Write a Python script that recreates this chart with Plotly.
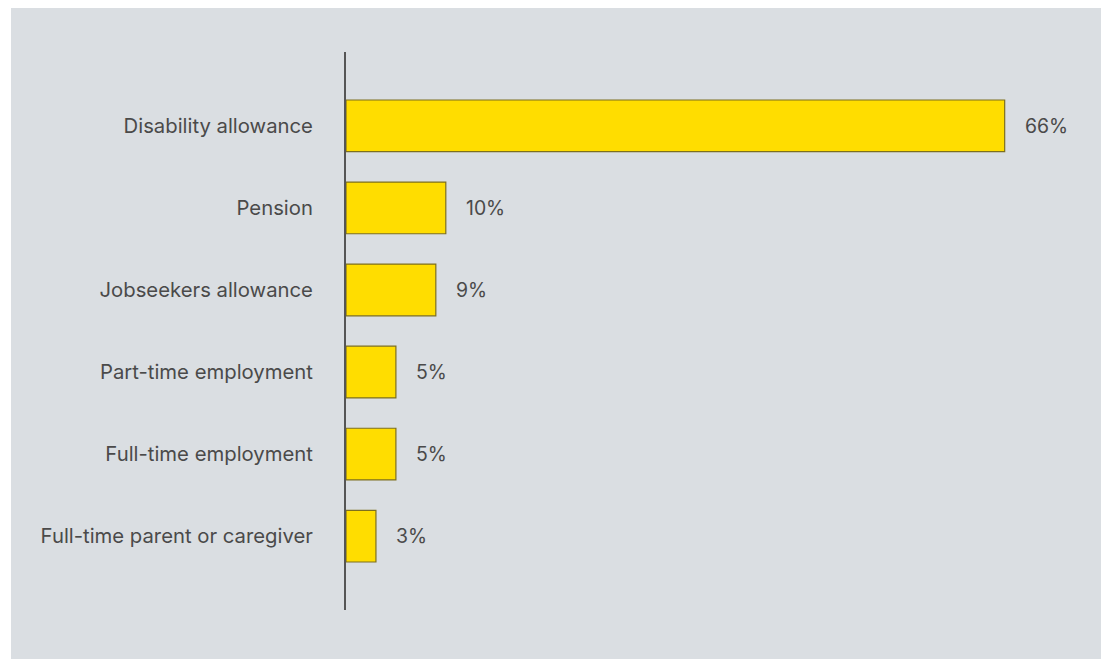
import plotly.graph_objects as go

categories = ["Disability allowance", "Pension", "Jobseekers allowance",
              "Part-time employment", "Full-time employment",
              "Full-time parent or caregiver"]
values = [66, 10, 9, 5, 5, 3]
labels = [f"{v}%" for v in values]

# The page body has an 8px margin, so the figure is sized/positioned to compensate
OFF = 8
W, H = 1109 - OFF, 659 - OFF
L, R, T, B = 346 - OFF, 9, 52 - OFF, 49
pw = W - L - R
ph = H - T - B

fig = go.Figure()
fig.add_trace(go.Bar(
    y=categories, x=values, orientation="h",
    marker=dict(color="#FFDD00", line=dict(color="#7d6f1e", width=1.2)),
    width=0.63, hoverinfo="skip",
))
for c, v, t in zip(categories, values, labels):
    fig.add_annotation(x=v, y=c, text=t, showarrow=False, xanchor="left",
                       xshift=18, font=dict(size=19.4, color="#4a4a4a"))

def px_to_paper_x(px):
    return (px - L) / pw

def py_to_paper_y(py):
    return (H - B - py) / ph

# white frame strips on the left and top of the grey panel
fig.add_shape(type="rect", xref="paper", yref="paper", layer="below",
              x0=px_to_paper_x(-20), x1=px_to_paper_x(11 - OFF),
              y0=py_to_paper_y(H + 20), y1=py_to_paper_y(-20),
              fillcolor="white", line=dict(width=0))
fig.add_shape(type="rect", xref="paper", yref="paper", layer="below",
              x0=px_to_paper_x(-20), x1=px_to_paper_x(W + 20),
              y0=py_to_paper_y(5 - OFF), y1=py_to_paper_y(-20),
              fillcolor="white", line=dict(width=0))

fig.update_layout(
    width=W, height=H,
    margin=dict(l=L, r=R, t=T, b=B, pad=0),
    paper_bgcolor="#dadee2", plot_bgcolor="rgba(0,0,0,0)",
    font=dict(family="Inter, Roboto, sans-serif", size=20.3, color="#4a4a4a"),
    showlegend=False,
    xaxis=dict(range=[0, pw / 9.98], visible=False, fixedrange=True),
    yaxis=dict(autorange=False, range=[5.9, -0.9], showline=True,
               linecolor="#555555", linewidth=2, ticks="", showgrid=False,
               ticklabelstandoff=27, zeroline=False),
)
fig.write_html("out.html")
